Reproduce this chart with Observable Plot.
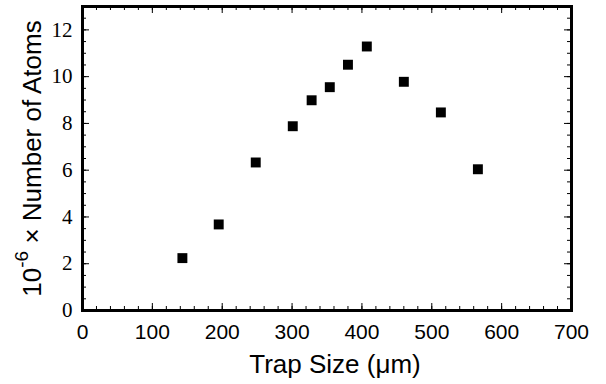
<!DOCTYPE html>
<html><head><meta charset="utf-8">
<script src="https://cdn.jsdelivr.net/npm/d3@7"></script>
<script src="https://cdn.jsdelivr.net/npm/@observablehq/plot@0.6"></script>
<style>body{margin:0;background:#fff}</style>
</head><body><div id="chart"></div>
<script>
const trapSize = [143, 195, 248, 301, 328, 354, 380, 407, 460, 513, 566];
const atoms = [2.24, 3.68, 6.33, 7.88, 8.99, 9.55, 10.51, 11.29, 9.78, 8.47, 6.04];
const xTicks = [0, 100, 200, 300, 400, 500, 600, 700];
const yTicks = [0, 2, 4, 6, 8, 10, 12];
const xMinor = d3.range(0, 701, 20);
const yMinor = d3.range(0, 13.01, 0.5);
const xTitle = "Trap Size (μm)";
const yBase = "10", yExp = "-6", yRest = " × Number of Atoms";
const yTitle = yBase + yExp + yRest;

const data = trapSize.map((x, i) => ({x, y: atoms[i]}));
const W = 606, Hh = 384, mL = 82, mR = 35, mT = 6, mB = 74;
const iw = W - mL - mR, ih = Hh - mT - mB;
const major = 7, minor = 4;
const serif = "'Liberation Serif', 'Times New Roman', serif";
const sans = "'Liberation Sans', Arial, Helvetica, sans-serif";
const serifMarker = "#010101";

const plot = Plot.plot({
  width: W, height: Hh,
  marginLeft: mL, marginRight: mR, marginTop: mT, marginBottom: mB,
  x: {domain: [0, 700]},
  y: {domain: [0, 13], axis: null},
  style: {fontFamily: sans, background: "#fff", color: "#000"},
  marks: [
    Plot.axisX({ticks: xTicks, tickSize: 0, tickPadding: 14, fontSize: 21, label: null}),
    Plot.text(yTicks, {y: d => d, text: d => String(d), frameAnchor: "left", dx: -10, textAnchor: "end", lineAnchor: "middle", fontSize: 21, fill: serifMarker}),
    Plot.tickX(xMinor, {x: d => d, insetTop: ih - minor, stroke: "#000"}),
    Plot.tickX(xMinor, {x: d => d, insetBottom: ih - minor, stroke: "#000"}),
    Plot.tickX(xTicks, {x: d => d, insetTop: ih - major, stroke: "#000"}),
    Plot.tickX(xTicks, {x: d => d, insetBottom: ih - major, stroke: "#000"}),
    Plot.tickY(yMinor, {y: d => d, insetRight: iw - minor, stroke: "#000"}),
    Plot.tickY(yMinor, {y: d => d, insetLeft: iw - minor, stroke: "#000"}),
    Plot.tickY(yTicks, {y: d => d, insetRight: iw - major, stroke: "#000"}),
    Plot.tickY(yTicks, {y: d => d, insetLeft: iw - major, stroke: "#000"}),
    Plot.frame({stroke: "#000", strokeWidth: 3}),
    Plot.dot(data, {x: "x", y: "y", symbol: "square", r: 5.6, fill: "#000", stroke: null}),
    Plot.text([xTitle], {text: d => d, frameAnchor: "bottom", dy: 54, dx: 8, fontSize: 26, lineAnchor: "middle", textAnchor: "middle"}),
    Plot.text([yTitle], {text: d => d, frameAnchor: "left", dx: -50, rotate: -90, fontSize: 26, lineAnchor: "middle", textAnchor: "middle"})
  ]
});
document.getElementById("chart").appendChild(plot);

// serif tick labels on the y axis
plot.querySelectorAll(`g[fill="${serifMarker}"]`).forEach(g => {
  g.setAttribute("fill", "#000");
  g.querySelectorAll("text").forEach(tx => tx.style.setProperty("font-family", serif, "important"));
});

// superscript exponent in the y title
const ns = "http://www.w3.org/2000/svg";
const t = [...plot.querySelectorAll("text")].find(e => e.textContent === yTitle);
if (t) {
  t.textContent = "";
  const a = document.createElementNS(ns, "tspan"); a.textContent = yBase;
  const b = document.createElementNS(ns, "tspan"); b.textContent = yExp;
  b.setAttribute("dy", "-13"); b.setAttribute("font-size", "19");
  const c = document.createElementNS(ns, "tspan"); c.textContent = yRest;
  c.setAttribute("dy", "13");
  t.append(a, b, c);
}
</script>
</body></html>
